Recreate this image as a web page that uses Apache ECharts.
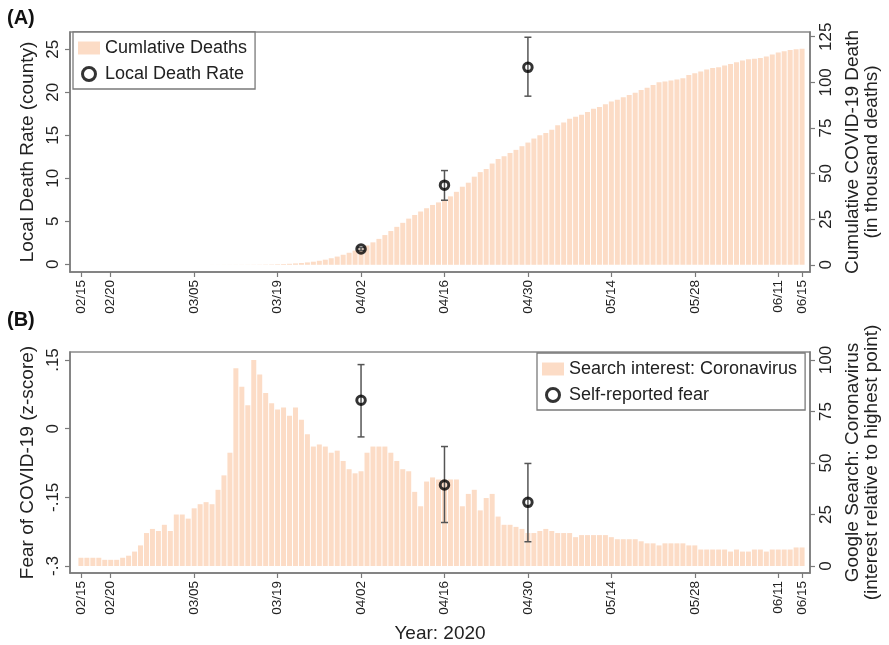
<!DOCTYPE html>
<html>
<head>
<meta charset="utf-8">
<script src="https://cdn.jsdelivr.net/npm/echarts@6/dist/echarts.min.js"></script>
<style>html,body{margin:0;padding:0;background:#fff}#c{width:889px;height:645px}</style>
</head>
<body>
<div id="c"></div>
<script>
// ---- data ----
const tickDays   = [0, 5, 19, 33, 47, 61, 75, 89, 103, 117, 121];
const tickLabels = ['02/15','02/20','03/05','03/19','04/02','04/16','04/30','05/14','05/28','06/11','06/15'];

// cumulative deaths (thousand), one value per day from 02/15 to 06/15
const cumDeaths = [
  0,0,0,0,0,0,0,0,0,0,0,0,0,0,0,
  0.001,0.002,0.006,0.009,0.011,0.012,0.015,0.019,
  0.022,0.028,0.036,0.04,0.05,0.06,0.08,
  0.1,0.15,0.2,0.3,0.4,0.55,0.75,1.0,1.3,1.7,2.2,2.8,3.6,4.5,5.5,6.6,7.8,9.0,10.6,12.3,14.2,16.3,18.5,20.8,23.0,25.3,27.3,29.2,
  31.0,32.8,34.2,35.6,37.5,40.0,42.8,45.0,48.3,50.8,52.5,55.5,58.0,59.5,61.3,63.0,65.0,67.0,69.2,71.0,72.3,74.0,76.5,78.0,80.0,81.2,82.2,83.8,85.5,86.5,88.0,89.5,
  90.5,91.8,93.0,94.3,95.8,97.0,98.5,100.0,100.5,101.0,101.5,102.3,104.0,105.0,106.0,107.0,107.8,108.3,109.2,110.0,111.0,112.0,112.6,113.0,113.4,114.2,115.3,116.3,117.0,117.8,118.2,118.4
];

// Google search interest "Coronavirus", one value per day from 02/15 to 06/15
const searchInterest = [
  4,4,4,4,3,3,3,4,5,7,
  10,16,18,17,20,17,25,25,23,28,
  30,31,30,37,44,55,96,87,78,100,
  93,84,79,76,77,73,77,71,64,58,
  59,58,55,56,51,47,45,46,55,58,
  58,58,55,51,47,46,36,29,41,43,
  42,42,42,42,29,35,37,27,33,35,
  24,20,20,19,18,16,16,17,18,17,
  16,16,16,14,15,15,15,15,15,14,
  13,13,13,13,12,11,11,10,11,11,
  11,11,10,10,8,8,8,8,8,7,
  8,7,7,8,8,7,8,8,8,8,
  9,9
];

const surveyDays = [47, 61, 75];
const deathRate     = [1.78, 9.2, 22.9];
const deathRateLow  = [1.6, 7.45, 19.55];
const deathRateHigh = [1.95, 10.9, 26.4];
const fear     = [0.062, -0.123, -0.161];
const fearLow  = [-0.018, -0.205, -0.247];
const fearHigh = [0.140, -0.039, -0.076];

const leftTicksA  = [0, 5, 10, 15, 20, 25];
const rightTicksA = [0, 25, 50, 75, 100, 125];
const leftTicksB  = [-0.3, -0.15, 0, 0.15];
const rightTicksB = [0, 25, 50, 75, 100];

// ---- chart ----
const FONT = 'Liberation Sans, Arial, Helvetica, sans-serif';
const BAR = '#fcdcc6';
const AX = '#7a7a7a';
const chart = echarts.init(document.getElementById('c'), null, {renderer: 'canvas'});

const barData = arr => arr.map((v, i) => [i, v]);
const ptData = vals => surveyDays.map((d, i) => [d, vals[i]]);
const errData = (lo, hi) => surveyDays.map((d, i) => [d, lo[i], hi[i]]);

function errRender(params, api) {
  const x = api.value(0);
  const pLo = api.coord([x, api.value(1)]);
  const pHi = api.coord([x, api.value(2)]);
  const cap = 3.5;
  const st = {stroke: '#555', lineWidth: 1.5};
  return {type: 'group', children: [
    {type: 'line', shape: {x1: pLo[0], y1: pLo[1], x2: pHi[0], y2: pHi[1]}, style: st},
    {type: 'line', shape: {x1: pHi[0] - cap, y1: pHi[1], x2: pHi[0] + cap, y2: pHi[1]}, style: st},
    {type: 'line', shape: {x1: pLo[0] - cap, y1: pLo[1], x2: pLo[0] + cap, y2: pLo[1]}, style: st}
  ]};
}

function xAxis(gridIndex, name) {
  return {
    type: 'value', gridIndex, min: -1.833, max: 122.33,
    splitLine: {show: false},
    axisLine: {show: true, onZero: false, lineStyle: {color: AX, width: 1.5}},
    axisTick: {show: true, length: 5, customValues: tickDays, lineStyle: {color: AX, width: 1.2}},
    axisLabel: {show: true, rotate: 90, margin: 8, customValues: tickDays, fontSize: 13.5, color: '#222', fontFamily: FONT,
      formatter: v => tickLabels[tickDays.indexOf(Math.round(v))] || ''},
    name: name || '', nameLocation: 'middle', nameGap: 51,
    nameTextStyle: {fontSize: 19, color: '#222', fontFamily: FONT}
  };
}

function yAxis(gridIndex, pos, min, max, ticks, fmt, name, nameGap) {
  return {
    type: 'value', gridIndex, position: pos, min, max,
    splitLine: {show: false},
    axisLine: {show: true, onZero: false, lineStyle: {color: AX, width: 1.5}},
    axisTick: {show: true, length: 5, customValues: ticks, lineStyle: {color: AX, width: 1.2}},
    axisLabel: {show: true, rotate: 90, margin: 8, customValues: ticks, fontSize: 17, color: '#222', fontFamily: FONT, formatter: fmt},
    name, nameLocation: 'middle', nameRotate: 90, nameGap,
    nameTextStyle: {fontSize: 19, color: '#222', fontFamily: FONT, lineHeight: 19}
  };
}

const fearFmt = v => {
  const r = Math.round(v * 100) / 100;
  if (r === 0) return '0';
  return (r < 0 ? '-' : '') + String(Math.abs(r)).replace(/^0/, '');
};

const ringStyle = {color: '#fff', borderColor: '#000', borderWidth: 3};

const option = {
  animation: false,
  backgroundColor: '#fff',
  textStyle: {fontFamily: FONT},
  graphic: [
    {type: 'text', left: 7, top: 8, style: {text: '(A)', font: 'bold 20px ' + FONT, fill: '#111'}},
    {type: 'text', left: 7, top: 310, style: {text: '(B)', font: 'bold 20px ' + FONT, fill: '#111'}}
  ],
  grid: [
    {left: 70, right: 74, top: 32, height: 240, show: true, borderColor: '#8a8a8a', borderWidth: 1.5, backgroundColor: '#fff'},
    {left: 70, right: 74, top: 352, height: 221, show: true, borderColor: '#8a8a8a', borderWidth: 1.5, backgroundColor: '#fff'}
  ],
  xAxis: [xAxis(0), xAxis(1, 'Year: 2020')],
  yAxis: [
    yAxis(0, 'left', -0.895, 27.01, leftTicksA, v => String(Math.round(v)), 'Local Death Rate (county)', 30),
    yAxis(0, 'right', -3.95, 127.6, rightTicksA, v => String(Math.round(v)), 'Cumulative COVID-19 Death\n(in thousand deaths)', 33),
    yAxis(1, 'left', -0.3153, 0.1675, leftTicksB, fearFmt, 'Fear of COVID-19 (z-score)', 30),
    yAxis(1, 'right', -3.4, 103.9, rightTicksB, v => String(Math.round(v)), 'Google Search: Coronavirus\n(interest relative to highest point)', 33)
  ],
  legend: [
    {
      data: [{name: 'Cumlative Deaths', icon: 'rect'},
             {name: 'Local Death Rate', icon: 'circle', itemStyle: ringStyle}],
      orient: 'vertical', left: 73, top: 32, padding: [7, 8, 6, 5], itemGap: 8,
      itemWidth: 22, itemHeight: 13, borderColor: '#7a7a7a', borderWidth: 1.3, backgroundColor: '#fff',
      textStyle: {fontSize: 18, color: '#222', fontFamily: FONT}
    },
    {
      data: [{name: 'Search interest: Coronavirus', icon: 'rect'},
             {name: 'Self-reported fear', icon: 'circle', itemStyle: ringStyle}],
      orient: 'vertical', left: 537, top: 353, padding: [7, 8, 6, 5], itemGap: 8,
      itemWidth: 22, itemHeight: 13, borderColor: '#7a7a7a', borderWidth: 1.3, backgroundColor: '#fff',
      textStyle: {fontSize: 18, color: '#222', fontFamily: FONT}
    }
  ],
  series: [
    {name: 'Cumlative Deaths', type: 'bar', xAxisIndex: 0, yAxisIndex: 1, barWidth: 5,
     itemStyle: {color: BAR}, data: barData(cumDeaths), z: 1},
    {name: 'Local Death Rate err', type: 'custom', xAxisIndex: 0, yAxisIndex: 0, renderItem: errRender,
     encode: {x: 0, y: [1, 2]}, data: errData(deathRateLow, deathRateHigh), z: 3},
    {name: 'Local Death Rate', type: 'scatter', xAxisIndex: 0, yAxisIndex: 0, symbol: 'circle', symbolSize: 8.5,
     itemStyle: {color: 'rgba(255,255,255,0)', borderColor: '#000', borderWidth: 3}, data: ptData(deathRate), z: 4},
    {name: 'Search interest: Coronavirus', type: 'bar', xAxisIndex: 1, yAxisIndex: 3, barWidth: 5,
     itemStyle: {color: BAR}, data: barData(searchInterest), z: 1},
    {name: 'Self-reported fear err', type: 'custom', xAxisIndex: 1, yAxisIndex: 2, renderItem: errRender,
     encode: {x: 0, y: [1, 2]}, data: errData(fearLow, fearHigh), z: 3},
    {name: 'Self-reported fear', type: 'scatter', xAxisIndex: 1, yAxisIndex: 2, symbol: 'circle', symbolSize: 8.5,
     itemStyle: {color: 'rgba(255,255,255,0)', borderColor: '#000', borderWidth: 3}, data: ptData(fear), z: 4}
  ]
};
chart.setOption(option);
</script>
</body>
</html>
